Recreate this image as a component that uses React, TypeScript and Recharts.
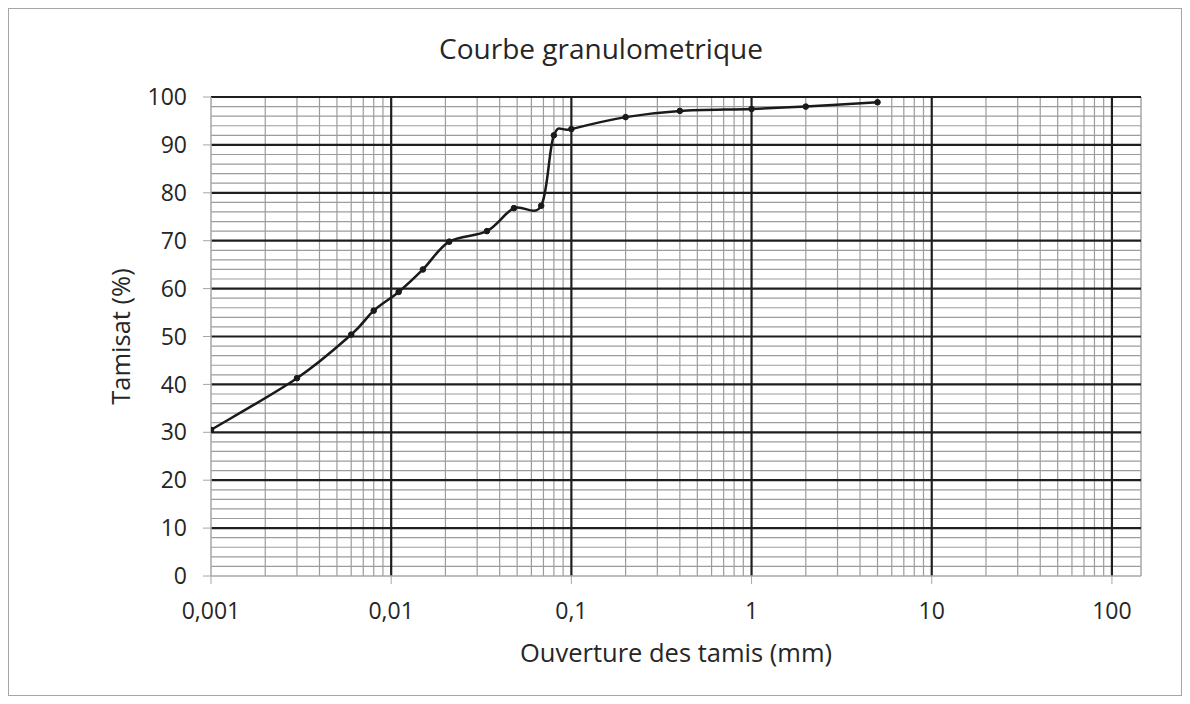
// Courbe granulometrique - log-scale sieve curve, Excel style grid

import {
  LineChart,
  Line,
  XAxis,
  YAxis,
  ReferenceLine,
  Label,
} from 'recharts';

const SIEVE_SIZES = [0.001, 0.003, 0.006, 0.008, 0.011, 0.015, 0.021, 0.034, 0.048, 0.068, 0.08, 0.1, 0.2, 0.4, 1, 2, 5];
const PASSING = [30.5, 41.3, 50.4, 55.4, 59.3, 64.0, 69.8, 72.0, 76.8, 77.3, 92.0, 93.3, 95.8, 97.1, 97.5, 98.0, 98.9];

const X_TICKS = [0.001, 0.01, 0.1, 1, 10, 100];
const X_MINOR = [
  0.002, 0.003, 0.004, 0.005, 0.006, 0.007, 0.008, 0.009,
  0.02, 0.03, 0.04, 0.05, 0.06, 0.07, 0.08, 0.09,
  0.2, 0.3, 0.4, 0.5, 0.6, 0.7, 0.8, 0.9,
  2, 3, 4, 5, 6, 7, 8, 9,
  20, 30, 40, 50, 60, 70, 80, 90,
];
const Y_TICKS = [0, 10, 20, 30, 40, 50, 60, 70, 80, 90, 100];
const Y_MINOR = [2, 4, 6, 8, 12, 14, 16, 18, 22, 24, 26, 28, 32, 34, 36, 38, 42, 44, 46, 48, 52, 54, 56, 58, 62, 64, 66, 68, 72, 74, 76, 78, 82, 84, 86, 88, 92, 94, 96, 98];

const X_MAX = 145;

const FONT = '"Open Sans", sans-serif';
const TEXT = '#262626';
const MAJOR = '#1e1e1e';
const MINOR = '#9c9c9c';
const AXIS = '#a6a6a6';

const data = SIEVE_SIZES.map((size, i) => ({ size, passing: PASSING[i] }));

// Excel-like smoothed line (Catmull-Rom through the points)
function excelSmooth(context: any) {
  let pts: number[][] = [];
  return {
    areaStart() {},
    areaEnd() {},
    lineStart() {
      pts = [];
    },
    point(x: number, y: number) {
      pts.push([+x, +y]);
    },
    lineEnd() {
      const n = pts.length;
      if (!n) return;
      context.moveTo(pts[0][0], pts[0][1]);
      for (let i = 0; i < n - 1; i++) {
        const p0 = pts[Math.max(i - 1, 0)];
        const p1 = pts[i];
        const p2 = pts[i + 1];
        const p3 = pts[Math.min(i + 2, n - 1)];
        context.bezierCurveTo(
          p1[0] + (p2[0] - p0[0]) / 6,
          p1[1] + (p2[1] - p0[1]) / 6,
          p2[0] - (p3[0] - p1[0]) / 6,
          p2[1] - (p3[1] - p1[1]) / 6,
          p2[0],
          p2[1]
        );
      }
    },
  };
}

const fmt = (v: number) => String(v).replace('.', ',');

export default function App() {
  return (
    <div
      style={{
        width: 1172,
        height: 686,
        border: `1px solid ${AXIS}`,
        background: '#fff',
        fontFamily: FONT,
      }}
    >
      <LineChart
        width={1172}
        height={686}
        data={data}
        margin={{ top: 88, right: 40, bottom: 29, left: 112 }}
      >
        <text
          x={592}
          y={50}
          textAnchor="middle"
          fill={TEXT}
          style={{ fontFamily: FONT, fontSize: 28 }}
        >
          Courbe granulometrique
        </text>

        <XAxis
          dataKey="size"
          type="number"
          scale="log"
          domain={[0.001, X_MAX]}
          ticks={X_TICKS}
          tickFormatter={fmt}
          allowDataOverflow
          height={90}
          tickSize={8}
          tickMargin={19}
          stroke={AXIS}
          tick={{ fill: TEXT, fontSize: 23, fontFamily: FONT }}
          tickLine={{ stroke: AXIS }}
          axisLine={{ stroke: AXIS, strokeWidth: 1.5 }}
        >
          <Label
            value="Ouverture des tamis (mm)"
            position="insideBottom"
            offset={4}
            style={{ fill: TEXT, fontSize: 25.5, fontFamily: FONT }}
          />
        </XAxis>
        <YAxis
          type="number"
          domain={[0, 100]}
          ticks={Y_TICKS}
          width={90}
          tickSize={8}
          tickMargin={16}
          stroke={AXIS}
          tick={{ fill: TEXT, fontSize: 23, fontFamily: FONT }}
          tickLine={{ stroke: AXIS }}
          axisLine={{ stroke: AXIS, strokeWidth: 1.5 }}
        >
          <Label
            value="Tamisat (%)"
            angle={-90}
            position="insideLeft"
            offset={0}
            style={{ fill: TEXT, fontSize: 25.5, fontFamily: FONT, textAnchor: 'middle' }}
          />
        </YAxis>

        {/* minor grid */}
        {Y_MINOR.map((v) => (
          <ReferenceLine key={`ym-${v}`} y={v} stroke={MINOR} strokeWidth={1.2} />
        ))}
        {X_MINOR.map((v) => (
          <ReferenceLine key={`xm-${v}`} x={v} stroke={MINOR} strokeWidth={1.2} />
        ))}
        <ReferenceLine x={X_MAX} stroke={AXIS} strokeWidth={1.5} />

        {/* major grid */}
        {Y_TICKS.filter((v) => v > 0).map((v) => (
          <ReferenceLine key={`yM-${v}`} y={v} stroke={MAJOR} strokeWidth={2.2} />
        ))}
        {X_TICKS.filter((v) => v > 0.001).map((v) => (
          <ReferenceLine key={`xM-${v}`} x={v} stroke={MAJOR} strokeWidth={2.2} />
        ))}

        <Line
          dataKey="passing"
          type={excelSmooth as any}
          stroke="#1a1a1a"
          strokeWidth={2.5}
          dot={{ r: 2.8, fill: '#1a1a1a', stroke: '#1a1a1a', strokeWidth: 1 }}
          isAnimationActive={false}
        />
      </LineChart>
    </div>
  );
}
